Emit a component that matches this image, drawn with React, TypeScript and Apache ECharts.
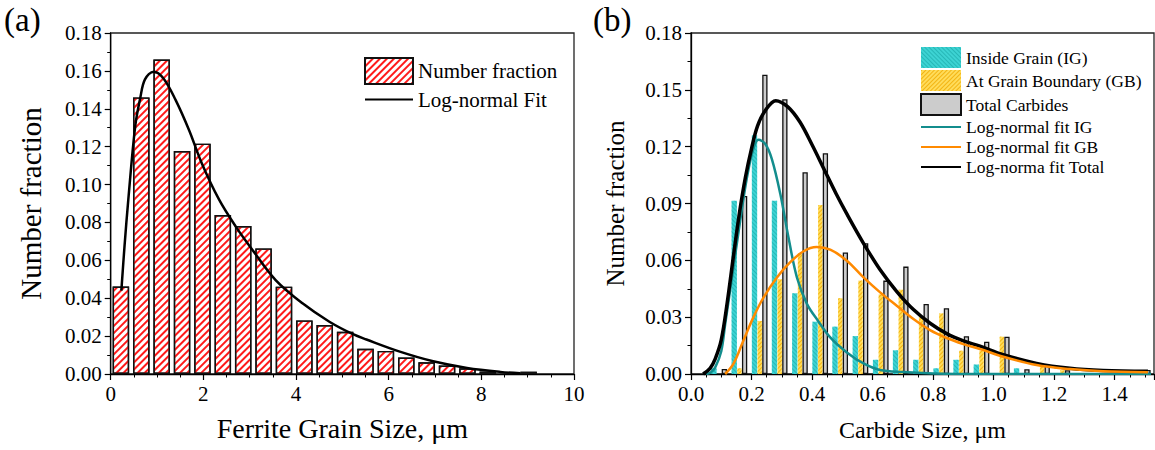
import React, { useEffect, useRef } from "react";
import * as echarts from "echarts";

// ---------- Panel (a): ferrite grain size ----------
const grainBins = [0.22, 0.66, 1.1, 1.54, 1.98, 2.42, 2.86, 3.3, 3.74, 4.18, 4.62, 5.06, 5.5, 5.94, 6.38, 6.82, 7.26, 7.7, 8.14, 8.58, 9.02];
const grainFraction = [0.0462, 0.146, 0.166, 0.1177, 0.1216, 0.0839, 0.0781, 0.0663, 0.0461, 0.0283, 0.0258, 0.0223, 0.0133, 0.0122, 0.0087, 0.0062, 0.0045, 0.003, 0.0013, 0, 0.0012];
const grainFitX = [0.23, 0.3, 0.38, 0.53, 0.64, 0.74, 0.93, 1.14, 1.4, 1.69, 1.97, 2.34, 2.7, 3.06, 3.56, 4.14, 4.72, 5.23, 5.52, 6.24, 6.96, 7.69, 8.41, 8.84];
const grainFitY = [0.044, 0.068, 0.092, 0.131, 0.146, 0.1555, 0.1596, 0.156, 0.1447, 0.1288, 0.111, 0.092, 0.0778, 0.0655, 0.0496, 0.0373, 0.0276, 0.021, 0.0182, 0.0118, 0.0067, 0.0032, 0.0011, 0.0004];

// ---------- Panel (b): carbide size ----------
const carbideBins = [0.093, 0.16, 0.227, 0.293, 0.36, 0.427, 0.493, 0.56, 0.627, 0.693, 0.76, 0.827, 0.893, 0.96, 1.027, 1.093, 1.16, 1.227, 1.293, 1.36, 1.427, 1.493];
const insideGrain = [0.003, 0.0915, 0.126, 0.0915, 0.0426, 0.0276, 0.025, 0.02, 0.0075, 0.0125, 0.0075, 0.003, 0.0075, 0.005, 0, 0.003, 0, 0, 0, 0, 0, 0];
const grainBoundary = [0, 0.003, 0.028, 0.05, 0.0637, 0.0892, 0.04, 0.0493, 0.042, 0.0445, 0.03, 0.032, 0.0123, 0.0123, 0.0197, 0, 0.004, 0.002, 0, 0, 0, 0];
const totalCarbides = [0.0026, 0.094, 0.158, 0.145, 0.1065, 0.1165, 0.0642, 0.069, 0.0493, 0.0567, 0.037, 0.0347, 0.0199, 0.017, 0.0197, 0.0025, 0.0044, 0.002, 0, 0, 0, 0.0021];

const fitIGX = [0.05, 0.065, 0.08, 0.1, 0.113, 0.14, 0.1625, 0.185, 0.206, 0.223, 0.245, 0.267, 0.295, 0.322, 0.35, 0.383, 0.42, 0.46, 0.515, 0.57, 0.625, 0.7, 0.8, 0.95, 1.2, 1.52];
const fitIGY = [0, 0.0008, 0.0035, 0.012, 0.0264, 0.056, 0.0809, 0.1038, 0.1188, 0.1236, 0.1215, 0.1135, 0.0951, 0.0722, 0.051, 0.037, 0.028, 0.0193, 0.0114, 0.0056, 0.0021, 0.001, 0.0003, 0, 0, 0];
const fitGBX = [0.113, 0.14, 0.173, 0.206, 0.24, 0.284, 0.328, 0.372, 0.415, 0.46, 0.515, 0.57, 0.625, 0.68, 0.735, 0.79, 0.845, 0.9, 0.955, 1.032, 1.142, 1.252, 1.362, 1.51];
const fitGBY = [0, 0.0053, 0.0176, 0.0299, 0.0405, 0.051, 0.059, 0.0648, 0.067, 0.0656, 0.0598, 0.051, 0.0431, 0.036, 0.029, 0.0232, 0.019, 0.0158, 0.0132, 0.0091, 0.0047, 0.0026, 0.0014, 0.0009];
const fitTotalX = [0.04, 0.063, 0.08, 0.1, 0.12, 0.14, 0.16, 0.18, 0.2, 0.22, 0.245, 0.28, 0.32, 0.36, 0.4, 0.44, 0.48, 0.515, 0.57, 0.625, 0.68, 0.735, 0.79, 0.845, 0.9, 0.955, 1.032, 1.142, 1.252, 1.362, 1.51];
const fitTotalY = [0, 0.003, 0.008, 0.018, 0.038, 0.062, 0.085, 0.104, 0.119, 0.131, 0.139, 0.1443, 0.141, 0.133, 0.121, 0.108, 0.095, 0.0845, 0.069, 0.055, 0.0435, 0.034, 0.0268, 0.0213, 0.0175, 0.0147, 0.0102, 0.0056, 0.003, 0.0019, 0.0015];

const FONT = "'Liberation Serif', 'Times New Roman', serif";

const pairs = (xs: number[], ys: number[]) => xs.map((x, i) => [x, ys[i]]);
const barPairs = (xs: number[], ys: number[]) =>
  xs.map((x, i) => [x, ys[i]]).filter((d) => d[1] > 0);

function valueAxisBase(gridIndex: number) {
  return {
    type: "value",
    gridIndex,
    splitLine: { show: false },
    axisLine: { show: true, onZero: false, lineStyle: { color: "#000", width: 1.3 } },
    axisTick: { show: true, inside: false, length: 6, lineStyle: { color: "#000", width: 1.2 } },
    minorTick: { show: true, length: 3.5, lineStyle: { color: "#000", width: 1 } },
    axisLabel: { color: "#000", fontFamily: FONT, fontSize: 21, margin: 9 },
    nameTextStyle: { color: "#000", fontFamily: FONT },
    nameLocation: "middle",
  };
}

const hiddenSymbol = { itemStyle: { opacity: 0 } };

export default function App() {
  const ref = useRef<HTMLDivElement>(null);

  useEffect(() => {
    if (!ref.current) return;
    const chart = echarts.init(ref.current, null, { renderer: "svg" });

    const option: any = {
      animation: false,
      backgroundColor: "#fff",
      textStyle: { fontFamily: FONT },
      grid: [
        { left: 110.7, top: 33, width: 463.3, height: 341, show: true, borderColor: "#222", borderWidth: 1.3 },
        { left: 691, top: 33, width: 463, height: 341, show: true, borderColor: "#222", borderWidth: 1.3 },
      ],
      xAxis: [
        {
          ...valueAxisBase(0),
          min: 0,
          max: 10,
          interval: 2,
          minorTick: { show: true, splitNumber: 4, length: 3.5, lineStyle: { color: "#000", width: 1 } },
          name: "Ferrite Grain Size, \u03bcm",
          nameGap: 40,
          nameTextStyle: { color: "#000", fontFamily: FONT, fontSize: 28 },
        },
        {
          ...valueAxisBase(1),
          min: 0,
          max: 1.53,
          interval: 0.2,
          minorTick: { show: true, splitNumber: 4, length: 3.5, lineStyle: { color: "#000", width: 1 } },
          axisLabel: {
            color: "#000", fontFamily: FONT, fontSize: 21, margin: 9, showMaxLabel: false,
            formatter: (v: number) => v.toFixed(1),
          },
          name: "Carbide Size, \u03bcm",
          nameGap: 44,
          nameTextStyle: { color: "#000", fontFamily: FONT, fontSize: 24 },
        },
      ],
      yAxis: [
        {
          ...valueAxisBase(0),
          min: 0,
          max: 0.18,
          interval: 0.02,
          minorTick: { show: true, splitNumber: 2, length: 3.5, lineStyle: { color: "#000", width: 1 } },
          axisLabel: { color: "#000", fontFamily: FONT, fontSize: 21, margin: 9, formatter: (v: number) => v.toFixed(2) },
          name: "Number fraction",
          nameGap: 65,
          nameTextStyle: { color: "#000", fontFamily: FONT, fontSize: 29 },
        },
        {
          ...valueAxisBase(1),
          min: 0,
          max: 0.18,
          interval: 0.03,
          minorTick: { show: true, splitNumber: 2, length: 3.5, lineStyle: { color: "#000", width: 1 } },
          axisLabel: { color: "#000", fontFamily: FONT, fontSize: 21, margin: 9, formatter: (v: number) => v.toFixed(2) },
          name: "Number fraction",
          nameGap: 63,
          nameTextStyle: { color: "#000", fontFamily: FONT, fontSize: 25 },
        },
      ],
      legend: [
        {
          orient: "vertical",
          left: 359,
          top: 52,
          itemWidth: 48,
          itemHeight: 26,
          itemGap: 4,
          selectedMode: false,
          textStyle: { color: "#000", fontFamily: FONT, fontSize: 21 },
          data: [{ name: "Number fraction", icon: "rect" }, { name: "Log-normal Fit", ...hiddenSymbol }],
        },
        {
          orient: "vertical",
          left: 915,
          top: 42,
          itemWidth: 40,
          itemHeight: 21,
          itemGap: 2,
          selectedMode: false,
          textStyle: { color: "#000", fontFamily: FONT, fontSize: 17.5 },
          data: [
            { name: "Inside Grain (IG)", icon: "rect" },
            { name: "At Grain Boundary (GB)", icon: "rect" },
            { name: "Total Carbides", icon: "rect" },
            { name: "Log-normal fit IG", ...hiddenSymbol },
            { name: "Log-normal fit GB", ...hiddenSymbol },
            { name: "Log-norma fit Total", ...hiddenSymbol },
          ],
        },
      ],
      graphic: [
        { type: "text", left: 4, top: 3, style: { text: "(a)", font: `33px ${FONT}`, fill: "#000" } },
        { type: "text", left: 593, top: 3, style: { text: "(b)", font: `33px ${FONT}`, fill: "#000" } },
      ],
      series: [
        {
          name: "Number fraction",
          type: "bar",
          xAxisIndex: 0,
          yAxisIndex: 0,
          barWidth: 16.5,
          data: barPairs(grainBins, grainFraction),
          itemStyle: {
            color: "#ffffff",
            borderColor: "#111",
            borderWidth: 1.4,
            decal: {
              symbol: "rect",
              symbolSize: 1,
              color: "#ff1a1a",
              dashArrayX: [1, 0],
              dashArrayY: [2, 2.2],
              rotation: -Math.PI / 4,
            },
          },
        },
        {
          name: "Log-normal Fit",
          type: "line",
          xAxisIndex: 0,
          yAxisIndex: 0,
          smooth: 0.35,
          symbol: "none",
          data: pairs(grainFitX, grainFitY),
          lineStyle: { color: "#000", width: 2.5 },
          itemStyle: { color: "#000" },
          z: 5,
        },
        {
          name: "Inside Grain (IG)",
          type: "bar",
          xAxisIndex: 1,
          yAxisIndex: 1,
          barWidth: 5.3,
          barGap: "8%",
          data: barPairs(carbideBins, insideGrain),
          itemStyle: {
            color: "#3dd3d3",
            decal: {
              symbol: "rect",
              symbolSize: 1,
              color: "rgba(20,160,160,0.55)",
              dashArrayX: [1, 0],
              dashArrayY: [1, 2],
              rotation: Math.PI / 4,
            },
          },
        },
        {
          name: "At Grain Boundary (GB)",
          type: "bar",
          xAxisIndex: 1,
          yAxisIndex: 1,
          barWidth: 4.3,
          barGap: "8%",
          data: barPairs(carbideBins, grainBoundary),
          itemStyle: {
            color: "#ffdc5a",
            decal: {
              symbol: "rect",
              symbolSize: 1,
              color: "rgba(240,170,0,0.8)",
              dashArrayX: [1, 0],
              dashArrayY: [1, 2],
              rotation: -Math.PI / 4,
            },
          },
        },
        {
          name: "Total Carbides",
          type: "bar",
          xAxisIndex: 1,
          yAxisIndex: 1,
          barWidth: 5.3,
          barGap: "8%",
          data: barPairs(carbideBins, totalCarbides),
          itemStyle: { color: "#cccccc", borderColor: "#111", borderWidth: 1.3 },
        },
        {
          name: "Log-normal fit IG",
          type: "line",
          xAxisIndex: 1,
          yAxisIndex: 1,
          smooth: 0.35,
          symbol: "none",
          data: pairs(fitIGX, fitIGY),
          lineStyle: { color: "#138d8d", width: 2.5 },
          itemStyle: { color: "#138d8d" },
          z: 5,
        },
        {
          name: "Log-normal fit GB",
          type: "line",
          xAxisIndex: 1,
          yAxisIndex: 1,
          smooth: 0.35,
          symbol: "none",
          data: pairs(fitGBX, fitGBY),
          lineStyle: { color: "#ff8a00", width: 2.5 },
          itemStyle: { color: "#ff8a00" },
          z: 6,
        },
        {
          name: "Log-norma fit Total",
          type: "line",
          xAxisIndex: 1,
          yAxisIndex: 1,
          smooth: 0.35,
          symbol: "none",
          data: pairs(fitTotalX, fitTotalY),
          lineStyle: { color: "#000", width: 3.5 },
          itemStyle: { color: "#000" },
          z: 5,
        },
      ],
    };

    chart.setOption(option);
    return () => chart.dispose();
  }, []);

  return (
    <div
      ref={ref}
      style={{ position: "fixed", left: 0, top: 0, width: 1155, height: 450, background: "#fff" }}
    />
  );
}
